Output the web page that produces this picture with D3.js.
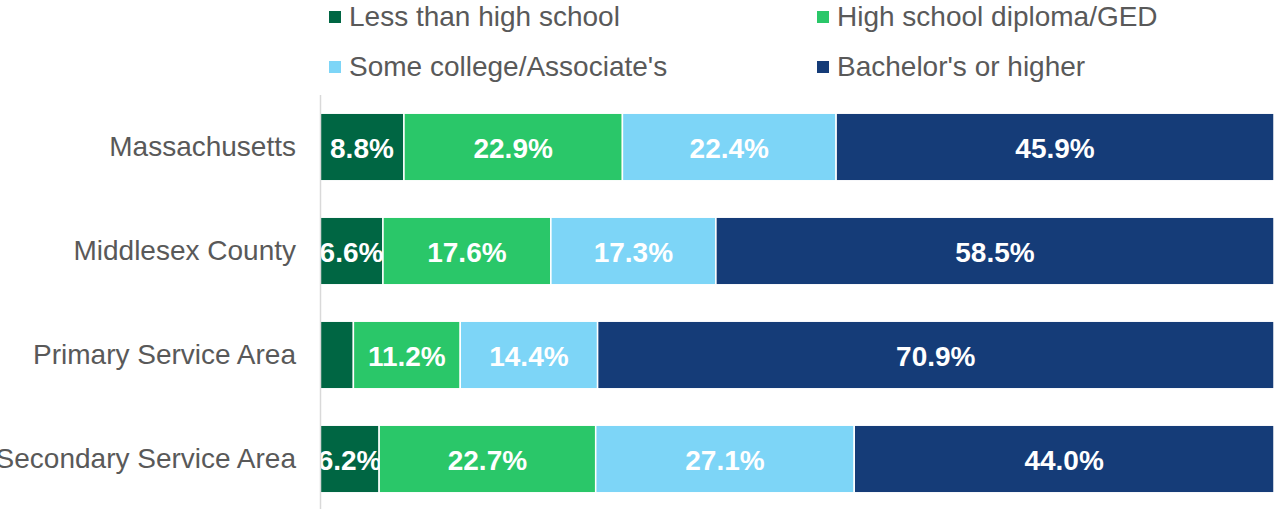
<!DOCTYPE html>
<html>
<head>
<meta charset="utf-8">
<script src="https://cdn.jsdelivr.net/npm/d3@7"></script>
<style>
  html, body { margin: 0; padding: 0; background: #fff; }
  svg { display: block; font-family: "Liberation Sans", Arial, sans-serif; }
</style>
</head>
<body>
<svg id="chart" width="1274" height="509"></svg>
<script>
// Educational attainment shares (%) by area
const categories = ["Massachusetts", "Middlesex County", "Primary Service Area", "Secondary Service Area"];
const seriesNames = ["Less than high school", "High school diploma/GED", "Some college/Associate's", "Bachelor's or higher"];
const lessThanHS   = [8.8, 6.6, 3.5, 6.2];
const highSchool   = [22.9, 17.6, 11.2, 22.7];
const someCollege  = [22.4, 17.3, 14.4, 27.1];
const bachelors    = [45.9, 58.5, 70.9, 44.0];
const colors = ["#006643", "#2ac769", "#7dd5f7", "#153c78"];

const seriesValues = [lessThanHS, highSchool, someCollege, bachelors];
const rows = categories.map((c, i) => {
  const r = { category: c };
  seriesNames.forEach((s, j) => r[s] = seriesValues[j][i]);
  return r;
});

const svg = d3.select("#chart");
const x = d3.scaleLinear().domain([0, 100]).range([320, 1274]);
const y = d3.scaleBand().domain(categories).range([95, 511]).paddingInner(0.35).paddingOuter(0.175);

const stacked = d3.stack().keys(seriesNames)(rows);

const layers = svg.append("g").selectAll("g")
  .data(stacked).join("g")
  .attr("fill", (d, i) => colors[i]);

layers.selectAll("rect")
  .data(d => d.map(p => ({ p, key: d.key })))
  .join("rect")
  .attr("x", d => x(d.p[0]))
  .attr("y", d => y(d.p.data.category))
  .attr("width", d => x(d.p[1]) - x(d.p[0]))
  .attr("height", y.bandwidth())
  .attr("stroke", "#fff")
  .attr("stroke-width", 1.5);

// Value labels, skipped where the segment is too narrow
layers.selectAll("text")
  .data(d => d.map(p => ({ p, key: d.key })))
  .join("text")
  .filter(d => x(d.p[1]) - x(d.p[0]) > 45)
  .attr("x", d => (x(d.p[0]) + x(d.p[1])) / 2)
  .attr("y", d => y(d.p.data.category) + y.bandwidth() / 2 + 1)
  .attr("text-anchor", "middle")
  .attr("dominant-baseline", "central")
  .attr("fill", "#fff")
  .attr("font-weight", "bold")
  .attr("font-size", 28)
  .text(d => d.p.data[d.key].toFixed(1) + "%");

// Category axis
const yAxis = svg.append("g")
  .attr("transform", "translate(320,0)")
  .call(d3.axisLeft(y).tickSize(0).tickPadding(24));
yAxis.select(".domain").remove();
yAxis.selectAll("text")
  .attr("font-family", "Liberation Sans, Arial, sans-serif")
  .attr("font-size", 28)
  .attr("fill", "#595959");

svg.append("line")
  .attr("x1", 320.5).attr("x2", 320.5)
  .attr("y1", 95).attr("y2", 509)
  .attr("stroke", "#d9d9d9")
  .attr("stroke-width", 1.5);

// Legend
const legendPos = [[329, 11], [817, 11], [329, 61], [817, 61]];
const legend = svg.append("g").selectAll("g")
  .data(seriesNames).join("g")
  .attr("transform", (d, i) => `translate(${legendPos[i][0]},${legendPos[i][1]})`);
legend.append("rect")
  .attr("width", 12).attr("height", 12)
  .attr("fill", (d, i) => colors[i]);
legend.append("text")
  .attr("x", 20).attr("y", 15)
  .attr("font-size", 28)
  .attr("fill", "#595959")
  .text(d => d);
</script>
</body>
</html>
